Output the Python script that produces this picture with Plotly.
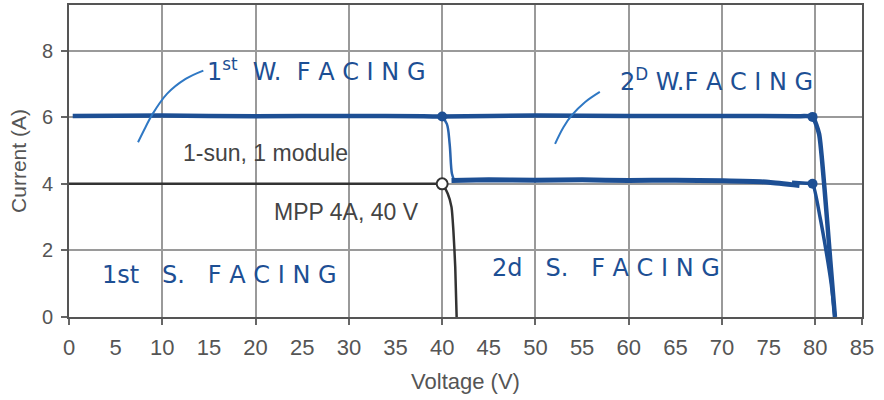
import plotly.graph_objects as go

# 1-sun, 1 module printed curve
mod_v = [0, 10, 20, 30, 38, 39.5, 40.0, 40.6, 41.0, 41.2, 41.4, 41.55]
mod_i = [4.0, 4.0, 4.0, 4.0, 4.0, 4.0, 3.98, 3.7, 3.3, 2.6, 1.5, 0.0]
mpp_v = [40]
mpp_i = [4.0]

# handwritten blue curves
w_v = [0.4, 10, 20, 30, 38, 40, 50, 60, 70, 78, 79.7, 80.4, 81.0, 81.6, 82.1]
w_i = [6.04, 6.05, 6.03, 6.04, 6.03, 6.02, 6.05, 6.04, 6.04, 6.03, 6.01, 5.5, 3.8, 1.7, 0.0]
drop1_v = [40, 40.5, 40.8, 41.05, 41.3]
drop1_i = [6.0, 5.8, 5.2, 4.3, 4.1]
s2_v = [41.0, 45, 50, 55, 60, 65, 70, 75, 78.3]
s2_i = [4.1, 4.12, 4.11, 4.12, 4.1, 4.11, 4.09, 4.05, 3.95]
s2b_v = [77.5, 79.0, 79.7, 80.5, 81.2, 81.7, 82.1]
s2b_i = [4.05, 4.02, 4.0, 3.0, 1.9, 1.0, 0.0]
dots_v = [40, 79.7, 79.7]
dots_i = [6.02, 6.01, 4.0]
arrow1_v = [7.4, 8.2, 8.9, 10.5, 12.5, 14.4]
arrow1_i = [5.25, 5.7, 6.07, 6.7, 7.15, 7.4]
arrow2_v = [52.1, 53.0, 53.9, 55.3, 56.9]
arrow2_i = [5.2, 5.7, 6.06, 6.45, 6.76]

x_ticks = [0, 5, 10, 15, 20, 25, 30, 35, 40, 45, 50, 55, 60, 65, 70, 75, 80, 85]
x_grid = [0, 10, 20, 30, 40, 50, 60, 70, 80, 85]
y_ticks = [0, 2, 4, 6, 8]

BLUE = "#1d4f94"
fig = go.Figure()
fig.add_trace(go.Scatter(x=mod_v, y=mod_i, mode="lines",
                         line=dict(color="#333333", width=2.5, shape="spline", smoothing=0.6)))
fig.add_trace(go.Scatter(x=w_v, y=w_i, mode="lines",
                         line=dict(color=BLUE, width=4.5, shape="spline", smoothing=0.5)))
fig.add_trace(go.Scatter(x=drop1_v, y=drop1_i, mode="lines",
                         line=dict(color="#2a64ad", width=2.5, shape="spline")))
fig.add_trace(go.Scatter(x=s2_v, y=s2_i, mode="lines",
                         line=dict(color=BLUE, width=5, shape="spline", smoothing=0.5)))
fig.add_trace(go.Scatter(x=s2b_v, y=s2b_i, mode="lines",
                         line=dict(color=BLUE, width=3.5, shape="spline", smoothing=0.5)))
fig.add_trace(go.Scatter(x=dots_v, y=dots_i, mode="markers",
                         marker=dict(color=BLUE, size=10)))
fig.add_trace(go.Scatter(x=mpp_v, y=mpp_i, mode="markers",
                         marker=dict(color="white", size=11, line=dict(color="#333333", width=2))))
fig.add_trace(go.Scatter(x=arrow1_v, y=arrow1_i, mode="lines",
                         line=dict(color="#2f78c4", width=2, shape="spline")))
fig.add_trace(go.Scatter(x=arrow2_v, y=arrow2_i, mode="lines",
                         line=dict(color="#2f78c4", width=2, shape="spline")))
# invisible trace for the labelled x axis
fig.add_trace(go.Scatter(x=[0, 85], y=[0, 0], mode="lines", line=dict(width=0),
                         xaxis="x2", hoverinfo="skip"))

hand = dict(family="DejaVu Sans", size=24, color=BLUE)
annos = [
    dict(x=14.6, y=7.42, text="1<sup>st</sup>  W.  F A C I N G"),
    dict(x=58.8, y=7.12, text="2<sup>D</sup> W.F A C I N G"),
    dict(x=3.3, y=1.25, text="1st   S.   F A C I N G"),
    dict(x=45.1, y=1.46, text="2d   S.   F A C I N G"),
]
annotations = [dict(x=a["x"], y=a["y"], text=a["text"], showarrow=False, xanchor="left",
                    yanchor="middle", font=hand, xref="x", yref="y") for a in annos]
printed = dict(family="Liberation Sans", size=23, color="#444444")
annotations += [
    dict(x=12.0, y=4.92, text="1-sun, 1 module", showarrow=False, xanchor="left", font=printed),
    dict(x=21.8, y=3.15, text="MPP 4A, 40 V", showarrow=False, xanchor="left", font=printed),
]

fig.update_layout(
    width=884, height=400, showlegend=False,
    margin=dict(l=69, r=22, t=5, b=83),
    paper_bgcolor="white", plot_bgcolor="white",
    font=dict(family="Liberation Sans", color="#555555"),
    annotations=annotations,
    xaxis=dict(range=[0, 85], tickvals=x_grid, showticklabels=False, automargin=False,
               showgrid=True, gridcolor="#9a9a9a", gridwidth=1.5, zeroline=False,
               ticks="outside", ticklen=6, tickcolor="#666666", tickwidth=1.5,
               showline=True, linecolor="#555555", linewidth=2, mirror=True),
    xaxis2=dict(range=[0, 85], overlaying="x", side="bottom", tickvals=x_ticks, automargin=False,
                showgrid=False, zeroline=False, showline=False, ticks="",
                ticklabelstandoff=15,
                tickfont=dict(size=22, color="#555555"),
                title=dict(text="Voltage (V)", font=dict(size=22, color="#555555"), standoff=14)),
    yaxis=dict(range=[0, 9.37], tickvals=y_ticks, showgrid=True, gridcolor="#9a9a9a", gridwidth=1.5,
               automargin=False, ticklabelstandoff=4,
               zeroline=False, ticks="outside", ticklen=6, tickcolor="#666666", tickwidth=1.5,
               tickfont=dict(size=20, color="#555555"),
               showline=True, linecolor="#555555", linewidth=2, mirror=True,
               title=dict(text="Current (A)", font=dict(size=21, color="#555555"), standoff=10)),
)
fig.write_html("out.html", config={"displayModeBar": False},
               post_script="document.body.style.margin='0';document.body.style.overflow='hidden';")
